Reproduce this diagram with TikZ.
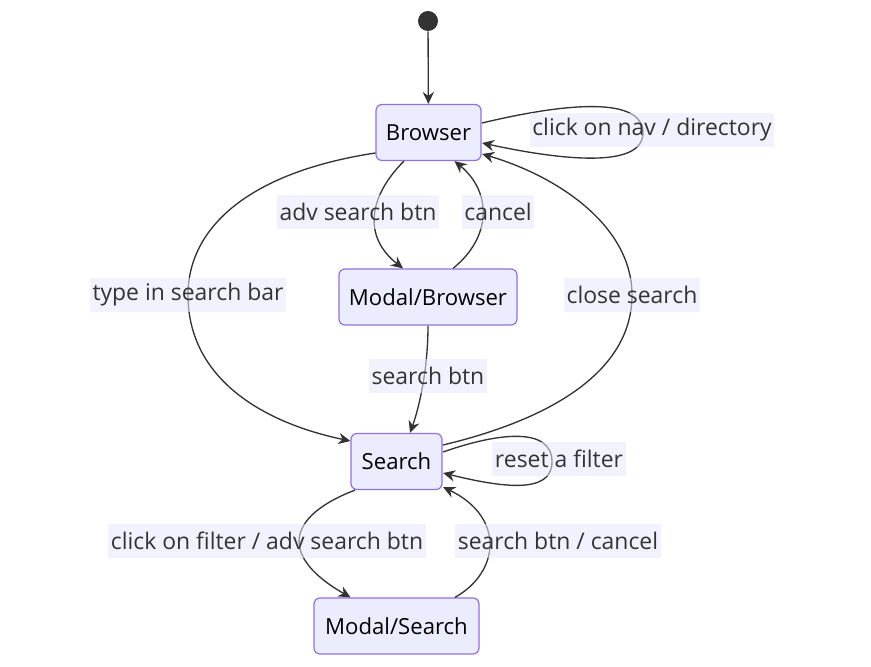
\documentclass[tikz,border=0pt]{standalone}
\usepackage{fontspec}
\setmainfont{Open Sans}
\usetikzlibrary{arrows.meta,calc}
\definecolor{nodefill}{RGB}{236,236,255}
\definecolor{nodeline}{RGB}{147,112,219}
\definecolor{edgecol}{RGB}{51,51,51}
\definecolor{lblfill}{RGB}{232,232,255}
\begin{document}
\begin{tikzpicture}[x=0.75pt,y=0.75pt,
  state/.style={draw=nodeline, fill=nodefill, line width=0.9pt, rounded corners=4.5pt,
    minimum height=42pt, inner sep=0pt, font=\fontsize{16.6}{19}\selectfont, text=black},
  lbl/.style={fill=lblfill, fill opacity=0.55, text opacity=1, text=edgecol, inner xsep=2pt,
    inner ysep=0pt, minimum height=26pt, font=\fontsize{17.2}{20}\selectfont},
  edge/.style={draw=edgecol, line width=1pt, -{Stealth[length=9pt,width=8.5pt,inset=3pt]}},
]
\path[use as bounding box] (0,0) rectangle (871,667);
% states
\node[circle, fill=edgecol, minimum size=15pt, inner sep=0pt] (start) at (428,646) {};
\node[state, minimum width=78.75pt] (browser) at (428.5,534.5) {Browser};
\node[state, minimum width=133.5pt] (mbrowser) at (428,370) {Modal/Browser};
\node[state, minimum width=68.25pt] (search) at (396.5,205.5) {Search};
\node[state, minimum width=123.75pt] (msearch) at (396.5,41) {Modal/Search};
% edges
\draw[edge] (start) -- (browser);
\draw[edge] ($(browser.east)+(0.5,9.5)$) .. controls (570,565) and (643,570) .. (643,534)
  .. controls (643,500) and (570,505) .. ($(browser.east)+(0.5,-10.5)$);
\draw[edge] ($(browser.south)+(-24.5,0)$) .. controls (368,470) and (363,430) .. ($(mbrowser.north)+(-25,0)$);
\draw[edge] ($(mbrowser.north)+(25,0)$) .. controls (492,430) and (492,475) .. ($(browser.south)+(26,0)$);
\draw[edge] ($(browser.west)+(0,-20.5)$) .. controls (250,495) and (188,440) .. (188,372)
  .. controls (188,290) and (260,245) .. ($(search.west)+(0,20.5)$);
\draw[edge] ($(search.east)+(0.5,16.5)$) .. controls (560,250) and (632,300) .. (632,372)
  .. controls (632,440) and (560,490) .. ($(browser.east)+(0.5,-21.5)$);
\draw[edge] (mbrowser.south) .. controls (428,300) and (420,262) .. ($(search.north)+(13.5,0)$);
\draw[edge] ($(search.east)+(0.5,9.5)$) .. controls (500,235) and (552,240) .. (552,205)
  .. controls (552,172) and (500,180) .. ($(search.east)+(0.5,-11.5)$);
\draw[edge] ($(search.south)+(-41.5,0)$) .. controls (285,150) and (280,110) .. ($(msearch.north)+(-46,0)$);
\draw[edge] ($(msearch.north)+(58.5,0)$) .. controls (500,95) and (505,150) .. ($(search.south east)+(0.5,3)$);
% labels
\node[lbl] (lnav) at (652,537) {click on nav / directory};
\node[lbl] (ladv) at (358,455) {adv search btn};
\node[lbl] (lcancel) at (498,455) {cancel};
\node[lbl] (ltype) at (188,372) {type in search bar};
\node[lbl] (lclose) at (632,372) {close search};
\node[lbl] (lsbtn) at (428,291) {search btn};
\node[lbl] (lreset) at (559,208) {reset a filter};
\node[lbl] (lfilter) at (267,126) {click on filter / adv search btn};
\node[lbl] (lscancel) at (558,126) {search btn / cancel};
\end{tikzpicture}
\end{document}
